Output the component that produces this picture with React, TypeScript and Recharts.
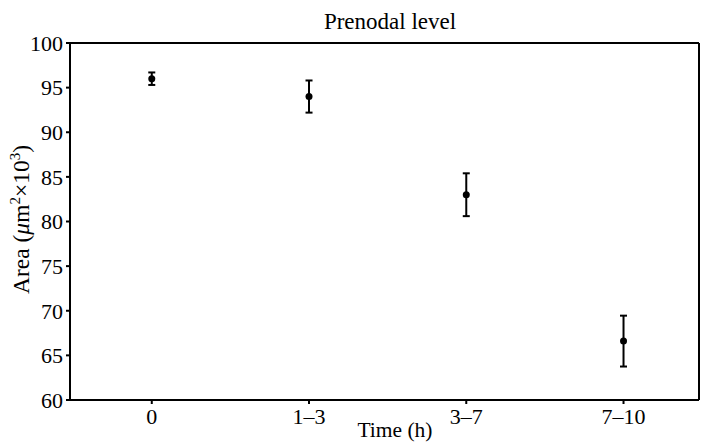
import { ScatterChart, Scatter, XAxis, YAxis, ErrorBar } from "recharts";

const timeLabels = ["0", "1–3", "3–7", "7–10"];
const areaMeans = [96, 94, 83, 66.6];
const areaErrors = [0.7, 1.8, 2.4, 2.85];
const yTicks = [60, 65, 70, 75, 80, 85, 90, 95, 100];

const data = timeLabels.map((t, i) => ({ x: i, y: areaMeans[i], err: areaErrors[i] }));

const FONT = "'Liberation Serif', 'Times New Roman', serif";

function YLabel(props: any) {
  const vb = props.viewBox || {};
  const cx = 29;
  const cy = (vb.y ?? 43) + (vb.height ?? 357) / 2 - 2;
  return (
    <text
      x={cx}
      y={cy}
      transform={`rotate(-90 ${cx} ${cy})`}
      textAnchor="middle"
      fontFamily={FONT}
      fontSize={23.5}
      fill="#000"
    >
      <tspan>Area (</tspan>
      <tspan fontStyle="italic">μ</tspan>
      <tspan>m</tspan>
      <tspan fontSize={15} dy={-9}>2</tspan>
      <tspan dy={9}>×10</tspan>
      <tspan fontSize={15} dy={-9}>3</tspan>
      <tspan dy={9}>)</tspan>
    </text>
  );
}

function XLabel() {
  return (
    <text x={395} y={437} textAnchor="middle" fontFamily={FONT} fontSize={21.5} fill="#000">
      Time (h)
    </text>
  );
}

const Dot = (props: any) => <circle cx={props.cx} cy={props.cy} r={3.5} fill="#000" />;

export default function App() {
  const tickStyle = { fontFamily: FONT, fontSize: 22, fill: "#000" };
  return (
    <div style={{ position: "absolute", left: 0, top: 0, background: "#fff" }}>
      <ScatterChart width={702} height={444} margin={{ top: 42, right: 2, left: 0, bottom: 0 }}>
        <text x={390} y={29} textAnchor="middle" fontFamily={FONT} fontSize={23} fill="#000">
          Prenodal level
        </text>
        <XAxis
          xAxisId="bottom"
          dataKey="x"
          type="number"
          domain={[-0.52, 3.48]}
          ticks={[0, 1, 2, 3]}
          tickFormatter={(v: number) => timeLabels[v] ?? ""}
          height={44}
          tickSize={4}
          tickMargin={4}
          tick={tickStyle}
          stroke="#000"
          strokeWidth={2}
          label={<XLabel />}
        />
        <XAxis
          xAxisId="top"
          orientation="top"
          dataKey="x"
          type="number"
          domain={[-0.52, 3.48]}
          ticks={[0, 1, 2, 3]}
          tickFormatter={() => ""}
          height={1}
          tickSize={3}
          stroke="#000"
          strokeWidth={2}
        />
        <YAxis
          yAxisId="left"
          dataKey="y"
          type="number"
          domain={[60, 100]}
          ticks={yTicks}
          width={70}
          tickSize={4}
          tickMargin={3}
          tick={tickStyle}
          stroke="#000"
          strokeWidth={2}
          label={<YLabel />}
        />
        <YAxis
          yAxisId="right"
          orientation="right"
          type="number"
          domain={[60, 100]}
          ticks={yTicks}
          width={1}
          tickSize={3}
          tickFormatter={() => ""}
          stroke="#000"
          strokeWidth={2}
        />
        <Scatter
          data={data}
          xAxisId="bottom"
          yAxisId="left"
          fill="#000"
          shape={<Dot />}
          isAnimationActive={false}
        >
          <ErrorBar dataKey="err" direction="y" width={3.5} strokeWidth={2} stroke="#000" />
        </Scatter>
      </ScatterChart>
    </div>
  );
}
